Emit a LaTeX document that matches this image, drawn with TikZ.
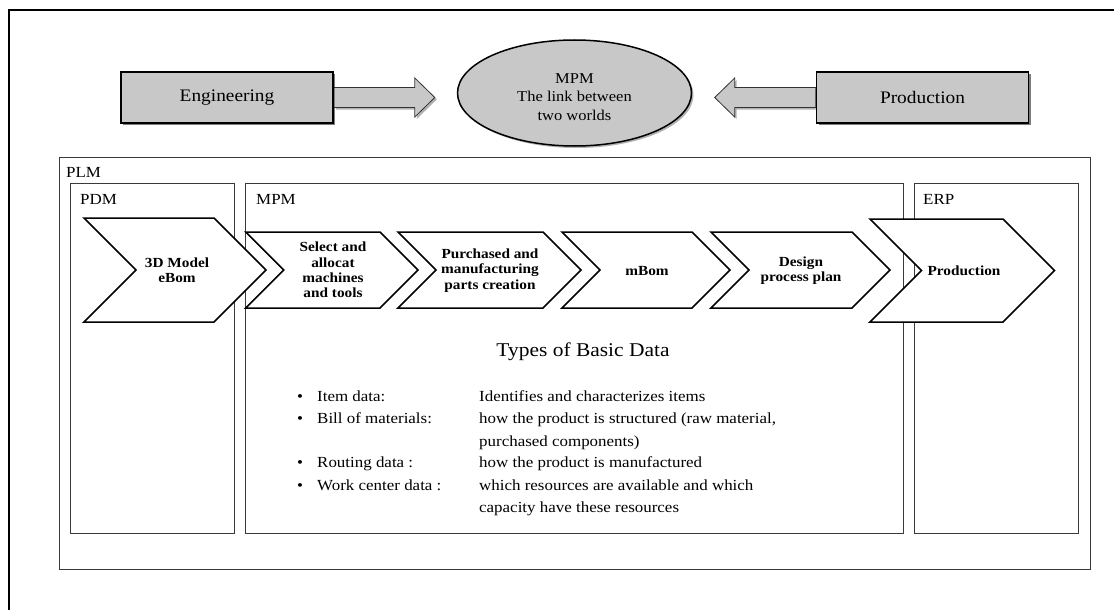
\documentclass[tikz,border=0pt]{standalone}
\usepackage{fontspec}
\setmainfont{Liberation Serif}[FakeStretch=1.1]
\usetikzlibrary{shapes.geometric,shadows,calc}
\definecolor{boxgray}{HTML}{C8C8C8}
\definecolor{framegray}{HTML}{3A3A3A}
\newcommand\mychev[4]{% left x, top-right x, top y, bottom y
  \pgfmathsetmacro\chvh{(#4-#3)/2}
  \pgfmathsetmacro\chvm{(#4+#3)/2}
  \draw[chevst] (#1,#3) -- (#2,#3) -- ({#2+\chvh},\chvm) -- (#2,#4) -- (#1,#4) -- ({#1+\chvh},\chvm) -- cycle;}
\begin{document}
\begin{tikzpicture}[x=1pt,y=-1pt,
  shd/.style={drop shadow={shadow xshift=2pt,shadow yshift=-2pt,opacity=0.3,fill=black}},
  topbox/.style={draw=black,line width=1.6pt,fill=boxgray,shd,minimum width=212pt,minimum height=51pt,inner sep=0pt,font=\fontsize{17.6}{20}\selectfont},
  blockarrow/.style={draw=black!80,line width=0.8pt,fill=boxgray,shd},
  framebox/.style={draw=framegray,line width=0.9pt},
  lbl/.style={anchor=base west,inner sep=0pt,font=\fontsize{15.4}{18}\selectfont},
  chevst/.style={draw=black,line width=1.5pt,fill=white,line join=miter},
  chevtext/.style={align=center,inner sep=0pt,font=\bfseries\fontsize{13.9}{15.3}\selectfont},
  listtext/.style={anchor=base west,inner sep=0pt,font=\fontsize{15.4}{22.3}\selectfont,align=left}]
\useasboundingbox (0,0) rectangle (1114,610);

% outer frame (top and left only)
\draw[line width=2.7pt,black] (1114,10) -- (9,10) -- (9,610);

% top row
\node[topbox] (eng) at (227,97.5) {Engineering};
\node[topbox] (prod) at (922.5,97.5) {Production};
\node[ellipse,draw=black,line width=1.5pt,fill=boxgray,shd,minimum width=234pt,minimum height=106pt,inner sep=0pt,
  font=\fontsize{15}{19.5}\selectfont] (mpmE) at (574.5,93)
  {\raisebox{-5pt}[\height][\depth]{\begin{tabular}{@{}c@{}}MPM\\[-1pt]The link between\\[-1pt]two worlds\end{tabular}}};

\path (eng.east) ++(101,0) coordinate (tipE);
\path (prod.west) ++(-101,0) coordinate (tipP);
\draw[blockarrow] ($(eng.east)+(0,-10)$) -- ($(tipE)+(-20,-10)$) -- ($(tipE)+(-20,-19.5)$) -- (tipE)
  -- ($(tipE)+(-20,19.5)$) -- ($(tipE)+(-20,10)$) -- ($(eng.east)+(0,10)$) -- cycle;
\draw[blockarrow] ($(prod.west)+(0,-10)$) -- ($(tipP)+(20,-10)$) -- ($(tipP)+(20,-19.5)$) -- (tipP)
  -- ($(tipP)+(20,19.5)$) -- ($(tipP)+(20,10)$) -- ($(prod.west)+(0,10)$) -- cycle;
\node[topbox] at (eng) {Engineering};
\node[topbox] at (prod) {Production};

% PLM frames
\draw[framebox] (59,157) rectangle (1090,569);
\draw[framebox] (70.5,183) rectangle (234.5,533);
\draw[framebox] (245.7,183) rectangle (903,533);
\draw[framebox] (914,183) rectangle (1078,533);
\node[lbl] (plm) at (66,177) {PLM};
\node[lbl] (pdm) at (80,204) {PDM};
\node[lbl] (mpmL) at (256,204) {MPM};
\node[lbl] (erp) at (923,204) {ERP};

% chevrons
\mychev{84}{214}{218}{322}
\mychev{245.7}{380}{232}{308}
\mychev{398}{543}{232}{308}
\mychev{562}{692}{232}{308}
\mychev{711}{852}{232}{308}
\mychev{870}{1003}{219}{322}
\node[chevtext] (c1) at (177,270) {3D Model\\eBom};
\node[chevtext] (c2) at (333,270) {Select and\\allocat\\machines\\and tools};
\node[chevtext] (c3) at (490,270.5) {Purchased and\\manufacturing\\parts creation};
\node[chevtext] (c4) at (647,271) {mBom};
\node[chevtext] (c5) at (801,270.5) {Design\\process plan};
\node[chevtext] (c6) at (964,271) {Production};

% basic data
\node[inner sep=0pt,font=\fontsize{19.5}{22}\selectfont] (types) at (583,352) {Types of Basic Data};
\node[listtext] (b1) at (297,401) {•};
\node[listtext] (b2) at (297,423) {•};
\node[listtext] (b3) at (297,467) {•};
\node[listtext] (b4) at (297,490) {•};
\node[listtext] (k1) at (317,401) {Item data:};
\node[listtext] (k2) at (317,423) {Bill of materials:};
\node[listtext] (k3) at (317,467) {Routing data :};
\node[listtext] (k4) at (317,490) {Work center data :};
\node[listtext] (v1) at (479,401) {Identifies and characterizes items};
\node[listtext] (v2) at (479,423) {how the product is structured (raw material,};
\node[listtext] (v2b) at (479,446) {purchased components)};
\node[listtext] (v3) at (479,467) {how the product is manufactured};
\node[listtext] (v4) at (479,490) {which resources are available and which};
\node[listtext] (v4b) at (479,512) {capacity have these resources};
\end{tikzpicture}
\end{document}
